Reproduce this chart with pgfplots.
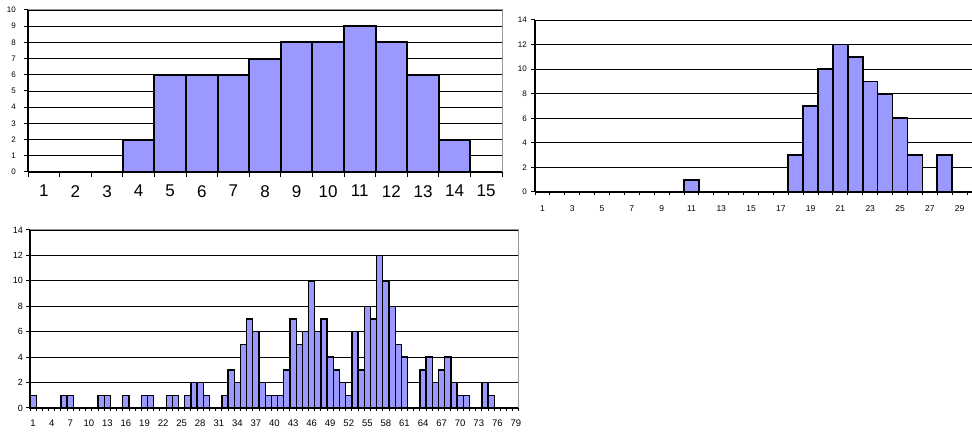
\documentclass[border=0pt]{standalone}
\usepackage{fontspec}
\setmainfont{Liberation Sans}
\usepackage{pgfplots}
\usepackage{pgfplotstable}
\pgfplotsset{compat=1.18}
\definecolor{barblue}{RGB}{153,153,255}
\definecolor{framegray}{RGB}{150,150,150}

\pgfplotstableread{
x y
1 0
2 0
3 0
4 2
5 6
6 6
7 6
8 7
9 8
10 8
11 9
12 8
13 6
14 2
15 0
}\histA

\pgfplotstableread{
x y
1 0
2 0
3 0
4 0
5 0
6 0
7 0
8 0
9 0
10 0
11 1
12 0
13 0
14 0
15 0
16 0
17 0
18 3
19 7
20 10
21 12
22 11
23 9
24 8
25 6
26 3
27 0
28 3
29 0
}\histB

\pgfplotstableread{
x y
1 1
2 0
3 0
4 0
5 0
6 1
7 1
8 0
9 0
10 0
11 0
12 1
13 1
14 0
15 0
16 1
17 0
18 0
19 1
20 1
21 0
22 0
23 1
24 1
25 0
26 1
27 2
28 2
29 1
30 0
31 0
32 1
33 3
34 2
35 5
36 7
37 6
38 2
39 1
40 1
41 1
42 3
43 7
44 5
45 6
46 10
47 6
48 7
49 4
50 3
51 2
52 1
53 6
54 3
55 8
56 7
57 12
58 10
59 8
60 5
61 4
62 0
63 0
64 3
65 4
66 2
67 3
68 4
69 2
70 1
71 1
72 0
73 0
74 2
75 1
76 0
77 0
78 0
79 0
}\histC

\pgfplotsset{
  /pgf/number format/assume math mode=true,
  hist/.style={
    scale only axis,
    anchor=south west,
    enlargelimits=false,
    axis lines*=left,
    axis line style={black, line width=1.2pt},
    ymajorgrids,
    grid style={black, line width=0.8pt},
    tick align=outside,
    major tick length=4pt,
    minor tick length=4pt,
    major x tick style={draw=none},
    minor x tick style={black, line width=1pt},
    ytick style={black, line width=1pt},
    ymin=0,
    xticklabel style={anchor=north, inner sep=0pt},
    yticklabel style={anchor=east, inner sep=0pt},
    clip=false,
  },
  histbar/.style={ybar, bar width=1, bar shift=0pt, fill=barblue, draw=black},
}

\begin{document}
\begin{tikzpicture}
\path[use as bounding box] (0pt,0pt) rectangle (972pt,435pt);

% Chart 1
\begin{axis}[hist,
  at={(28pt,263pt)}, width=474pt, height=162pt,
  xmin=0.5, xmax=15.5, ymax=10,
  ytick={0,1,...,10},
  xtick={1,2,...,15},
  minor xtick={0.5,1.5,...,15.5},
  minor tick length=5pt,
  xticklabel style={font=\fontsize{17}{17}\selectfont, yshift=-9pt},
  yticklabel style={font=\fontsize{8}{8}\selectfont, xshift=-8pt},
]
\addplot[histbar, line width=2pt] table[x=x,y=y] {\histA};
\draw[framegray, line width=1pt] (rel axis cs:0,1) -- (rel axis cs:1,1) -- (rel axis cs:1,0);
\end{axis}

% Chart 2
\begin{axis}[hist,
  at={(535pt,243pt)}, width=437pt, height=172pt,
  xmin=0.5, xmax=29.83, ymax=14,
  ytick={0,2,...,14},
  xtick={1,3,...,29},
  minor xtick={0.5,1.5,...,29.5},
  minor tick length=3pt,
  xticklabel style={font=\fontsize{8.5}{8.5}\selectfont, yshift=-9pt},
  yticklabel style={font=\fontsize{8}{8}\selectfont, xshift=-4pt},
]
\addplot[histbar, line width=1.6pt] table[x=x,y=y] {\histB};
\end{axis}

% Chart 3
\begin{axis}[hist,
  at={(30pt,27pt)}, width=489pt, height=178pt,
  xmin=0.5, xmax=79.5, ymax=14,
  ytick={0,2,...,14},
  xtick={1,4,...,79},
  minor xtick={0.5,1.5,...,79.5},
  minor tick length=3pt,
  xticklabel style={font=\fontsize{9.5}{9.5}\selectfont, yshift=-8pt},
  yticklabel style={font=\fontsize{9}{9}\selectfont, xshift=-3pt},
]
\addplot[histbar, line width=1.3pt] table[x=x,y=y] {\histC};
\draw[framegray, line width=1pt] (rel axis cs:0,1) -- (rel axis cs:1,1) -- (rel axis cs:1,0);
\end{axis}
\end{tikzpicture}
\end{document}
